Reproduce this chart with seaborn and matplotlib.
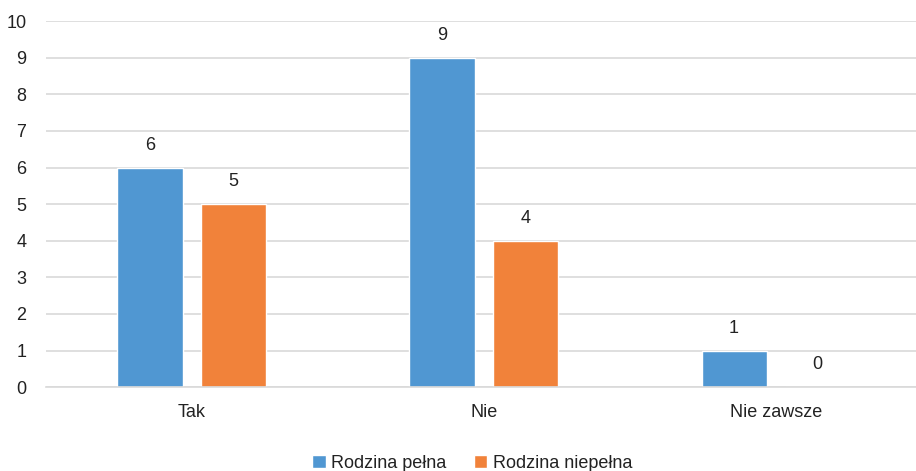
import pandas as pd
import matplotlib.pyplot as plt
import seaborn as sns

categories = ["Tak", "Nie", "Nie zawsze"]
series_names = ["Rodzina pełna", "Rodzina niepełna"]
pelna = [6, 9, 1]
niepelna = [5, 4, 0]

df = pd.DataFrame({
    "odp": categories * 2,
    "grupa": [series_names[0]] * 3 + [series_names[1]] * 3,
    "n": pelna + niepelna,
})

sns.set_theme(style="white")
plt.rcParams["font.family"] = ["Liberation Sans", "DejaVu Sans"]

fig = plt.figure(figsize=(9.16, 4.71), dpi=100)
ax = fig.add_axes([0.05, 0.178, 0.95, 0.777])

palette = {series_names[0]: "#5097D2", series_names[1]: "#F1823A"}
sns.barplot(data=df, x="odp", y="n", hue="grupa", order=categories,
            hue_order=series_names, palette=palette, width=0.572, gap=0.22,
            saturation=1, legend=True, ax=ax, zorder=2)

for cont in ax.containers:
    ax.bar_label(cont, labels=[f"{v:.0f}" for v in cont.datavalues],
                 padding=10, fontsize=13, color="#222222")

ax.set_xlim(-0.5, 2.48)
ax.set_ylim(0, 10)
ax.set_yticks(range(0, 11))
ax.yaxis.grid(True, color="#D9D9D9", linewidth=1.2, zorder=0)
ax.set_axisbelow(True)
for s in ["top", "right", "left"]:
    ax.spines[s].set_visible(False)
ax.spines["bottom"].set_color("#D9D9D9")
ax.spines["bottom"].set_linewidth(1.2)
ax.tick_params(axis="both", length=0, labelsize=13, colors="#222222")
ax.tick_params(axis="x", pad=12)
ax.tick_params(axis="y", pad=14)
ax.set_xlabel("")
ax.set_ylabel("")

ax.legend(loc="upper center", bbox_to_anchor=(0.49, -0.14), ncol=2, frameon=False,
          fontsize=13, handlelength=0.75, handleheight=0.75, handletextpad=0.3,
          columnspacing=1.5, labelcolor="#222222")

fig.savefig("out.png")
